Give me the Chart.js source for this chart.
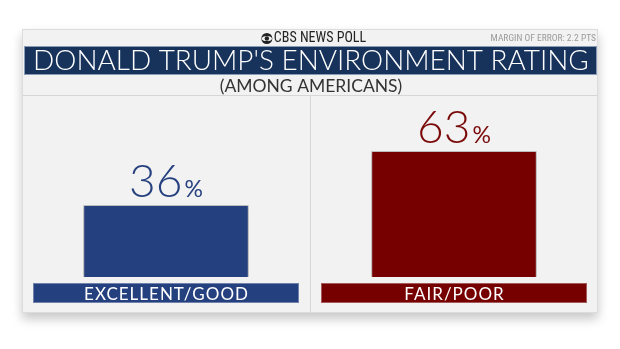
<!DOCTYPE html>
<html><head><meta charset="utf-8">
<script src="https://cdn.jsdelivr.net/npm/chart.js@4/dist/chart.umd.min.js"></script>
<style>html,body{margin:0;padding:0;background:#fff;}#wrap{width:620px;height:349px;}</style>
</head><body><div id="wrap"><canvas id="c" width="620" height="349"></canvas></div>
<script>
const categories = ['EXCELLENT/GOOD', 'FAIR/POOR'];
const values = [36, 63];
const barColors = ['#24407e', '#760000'];
const textColors = ['#27407f', '#7a0a0a'];
const title = "DONALD TRUMP'S ENVIRONMENT RATING";
const subtitle = '(AMONG AMERICANS)';
const header = 'CBS NEWS POLL';
const margin = 'MARGIN OF ERROR: 2.2 PTS';

const CARD = {x: 22, y: 29, w: 576, h: 284};

function fitFont(ctx, text, weight, family, targetW) {
  ctx.font = weight + ' 100px ' + family;
  const w = ctx.measureText(text).width;
  return 100 * targetW / w;
}

const decor = {
  id: 'decor',
  beforeDraw(chart) {
    const ctx = chart.ctx;
    ctx.save();
    ctx.shadowColor = 'rgba(0,0,0,0.22)';
    ctx.shadowBlur = 10;
    ctx.shadowOffsetY = 6;
    ctx.fillStyle = '#f2f2f2';
    ctx.fillRect(CARD.x, CARD.y, CARD.w, CARD.h);
    ctx.shadowColor = 'transparent';
    ctx.strokeStyle = '#dcdcdc';
    ctx.lineWidth = 1;
    ctx.strokeRect(CARD.x + 0.5, CARD.y + 0.5, CARD.w - 1, CARD.h - 1);
    // header
    ctx.fillStyle = '#222';
    ctx.font = '14px "Roboto Condensed", "Liberation Sans Narrow", Roboto, sans-serif';
    ctx.textBaseline = 'middle';
    ctx.textAlign = 'left';
    const hw = ctx.measureText(header).width;
    const hx = 313 - hw / 2 + 7;
    ctx.fillText(header, hx, 38.5);
    ctx.beginPath();
    ctx.arc(hx - 7, 38.5, 5.5, 0, Math.PI * 2);
    ctx.fill();
    ctx.fillStyle = '#f2f2f2';
    ctx.beginPath();
    ctx.ellipse(hx - 7, 38.5, 5, 2.6, 0, 0, Math.PI * 2);
    ctx.fill();
    ctx.fillStyle = '#222';
    ctx.beginPath();
    ctx.arc(hx - 7, 38.5, 2.2, 0, Math.PI * 2);
    ctx.fill();
    // margin
    ctx.fillStyle = '#9a9a9a';
    ctx.font = '9.5px "Roboto Condensed", "Liberation Sans Narrow", Roboto, sans-serif';
    ctx.textAlign = 'right';
    ctx.fillText(margin, 596, 38.5);
    // title bar
    ctx.fillStyle = '#17335c';
    ctx.fillRect(24, 46, 573, 29);
    ctx.strokeStyle = '#8a9bb5';
    ctx.strokeRect(24.5, 46.5, 572, 28);
    ctx.fillStyle = '#ffffff';
    ctx.textAlign = 'center';
    const fs = fitFont(ctx, title, '300', 'Lato, "Open Sans", sans-serif', 556);
    ctx.font = '300 ' + fs.toFixed(2) + 'px Lato, "Open Sans", sans-serif';
    ctx.textBaseline = 'alphabetic';
    ctx.fillText(title, 311, 70);
    // subtitle
    ctx.fillStyle = '#333';
    ctx.font = '400 17.5px Lato, "Open Sans", sans-serif';
    ctx.fillText(subtitle, 311, 92);
    // dividers
    ctx.strokeStyle = '#d6d6d6';
    ctx.beginPath();
    ctx.moveTo(CARD.x + 1, 95.5); ctx.lineTo(CARD.x + CARD.w - 1, 95.5);
    ctx.moveTo(310.5, 96); ctx.lineTo(310.5, CARD.y + CARD.h - 1);
    ctx.stroke();
    ctx.restore();
  },
  beforeDatasetsDraw(chart) {
    const ctx = chart.ctx;
    ctx.save();
    ctx.shadowColor = 'rgba(0,0,0,0.25)';
    ctx.shadowBlur = 4;
    ctx.shadowOffsetY = 1;
  },
  afterDatasetsDraw(chart) {
    const ctx = chart.ctx;
    ctx.restore();
    ctx.save();
    const meta = chart.getDatasetMeta(0);
    const xs = chart.scales.x;
    meta.data.forEach((bar, i) => {
      const cx = xs.getPixelForValue(i);
      ctx.fillStyle = barColors[i];
      ctx.fillRect(cx - 133, 283, 266, 20);
      ctx.strokeStyle = 'rgba(255,255,255,0.35)';
      ctx.lineWidth = 1;
      ctx.strokeRect(cx - 132.5, 283.5, 265, 19);
      ctx.fillStyle = '#fff';
      ctx.font = '400 17px Lato, "Open Sans", sans-serif';
      ctx.textAlign = 'center';
      ctx.textBaseline = 'alphabetic';
      ctx.letterSpacing = '1px';
      ctx.fillText(categories[i], cx + 0.5, 299.5);
      ctx.letterSpacing = '0px';
      const num = String(values[i]);
      ctx.font = '300 46px Lato, "Open Sans", sans-serif';
      const nw = ctx.measureText(num).width;
      ctx.font = '400 23px Lato, "Open Sans", sans-serif';
      const pw = ctx.measureText('%').width;
      const total = nw + 2 + pw;
      const x0 = cx - total / 2;
      const base = bar.y - 8;
      ctx.fillStyle = textColors[i];
      ctx.textAlign = 'left';
      ctx.font = '300 46px Lato, "Open Sans", sans-serif';
      ctx.fillText(num, x0, base);
      ctx.font = '400 23px Lato, "Open Sans", sans-serif';
      ctx.fillText('%', x0 + nw + 2, base);
    });
    ctx.restore();
  }
};

new Chart(document.getElementById('c'), {
  type: 'bar',
  data: {
    labels: categories,
    datasets: [{
      data: values,
      backgroundColor: barColors,
      borderColor: '#c8c8c8',
      borderWidth: 1,
      barPercentage: 0.575,
      categoryPercentage: 1.0
    }]
  },
  options: {
    responsive: false,
    animation: false,
    events: [],
    layout: {padding: {left: 22, right: 22, top: 97, bottom: 72}},
    plugins: {legend: {display: false}, tooltip: {enabled: false}},
    scales: {
      x: {display: false},
      y: {display: false, min: 0, max: 90}
    }
  },
  plugins: [decor]
});
</script>
</body></html>
